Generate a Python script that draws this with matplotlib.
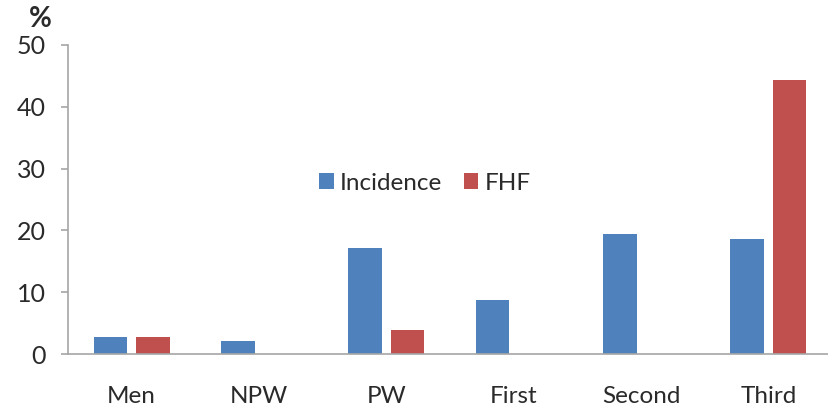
import matplotlib
matplotlib.use('Agg')
import matplotlib.pyplot as plt
import numpy as np

plt.rcParams['font.family'] = ['Lato', 'DejaVu Sans']

# incidence and FHF share (%) per group
categories = ['Men', 'NPW', 'PW', 'First', 'Second', 'Third']
incidence = [2.8, 2.1, 17.2, 8.7, 19.4, 18.6]
fhf = [2.8, 0.0, 3.9, 0.0, 0.0, 44.3]

blue = '#4F81BD'
red = '#C0504D'
axis_grey = '#A6A6A6'
text_col = '#2A2A2A'

fig = plt.figure(figsize=(8.29, 4.08), dpi=100)
ax = fig.add_axes([68 / 829, 54 / 408, 764 / 829, 309 / 408])

x = np.arange(len(categories))
w = 0.265
ax.bar(x - 0.167, incidence, w, color=blue, label='Incidence')
ax.bar(x + 0.167, fhf, w, color=red, label='FHF')

ax.set_xlim(-0.5, len(categories) - 0.5)
ax.set_ylim(0, 50)
ax.set_yticks([0, 10, 20, 30, 40, 50])
ax.set_xticks(x)
ax.set_xticklabels(categories)

for s in ['top', 'right']:
    ax.spines[s].set_visible(False)
for s in ['left', 'bottom']:
    ax.spines[s].set_color(axis_grey)
    ax.spines[s].set_linewidth(1.2)

ax.tick_params(axis='y', length=5, width=1.2, color=axis_grey, pad=11,
               labelsize=18, labelcolor=text_col)
ax.tick_params(axis='x', length=0, pad=23, labelsize=17.5, labelcolor=text_col)

fig.text(40 / 829, 1 - 19 / 408, '%', ha='center', va='center',
         fontsize=20, fontweight='bold', color=text_col)

ax.legend(loc='center', bbox_to_anchor=(0.467, 0.553), ncol=2, frameon=False,
          fontsize=17.5, handlelength=0.6, handleheight=0.6, handletextpad=0.25,
          columnspacing=0.9, labelcolor=text_col)

fig.savefig('out.png', dpi=100)
